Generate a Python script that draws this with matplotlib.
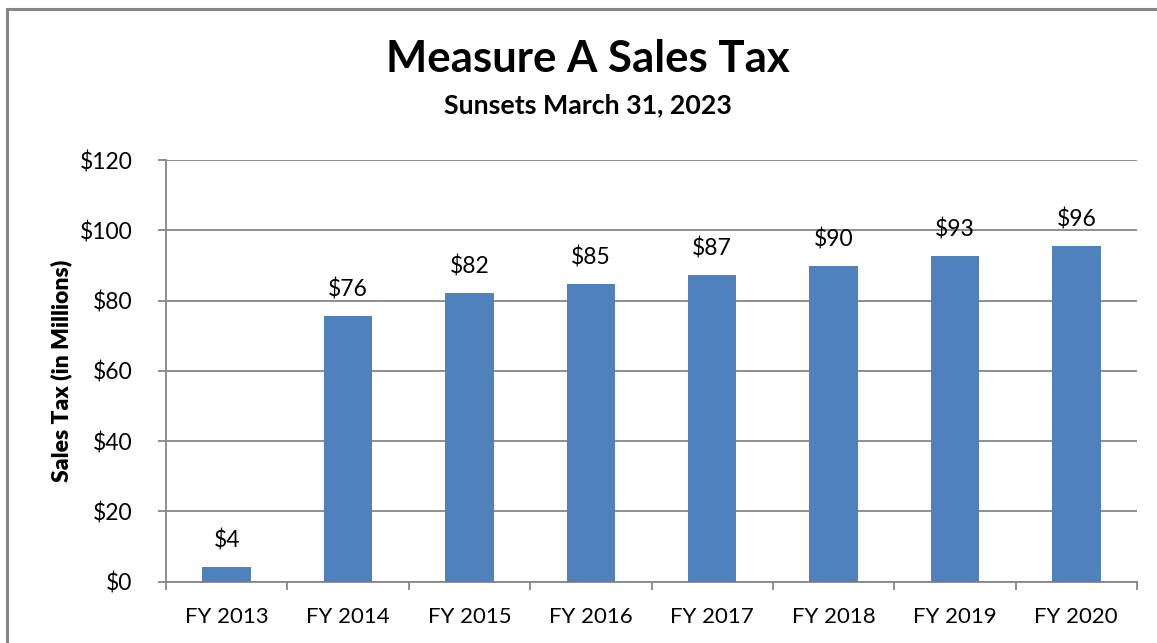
import matplotlib
matplotlib.use("Agg")
import matplotlib.pyplot as plt
from matplotlib.patches import Rectangle

years = ["FY 2013", "FY 2014", "FY 2015", "FY 2016", "FY 2017", "FY 2018", "FY 2019", "FY 2020"]
sales_tax = [4.3, 75.6, 82.2, 84.8, 87.3, 89.9, 92.7, 95.6]
labels = ["$4", "$76", "$82", "$85", "$87", "$90", "$93", "$96"]
yticks = [0, 20, 40, 60, 80, 100, 120]

plt.rcParams["font.family"] = ["Lato", "DejaVu Sans"]

W, H = 1157, 643
fig = plt.figure(figsize=(W / 100, H / 100), dpi=100)

# outer chart border (cut off at right and bottom like the reference)
fig.patches.append(Rectangle((7 / W, -0.1), 1.2, 1 - 9 / H + 0.1, transform=fig.transFigure,
                             fill=False, edgecolor="#868686", linewidth=2.2))

ax = fig.add_axes([166 / W, 1 - 581.7 / H, (1137 - 166) / W, (581.7 - 160) / H])
x = range(len(years))
ax.bar(x, sales_tax, width=0.4, color="#4f81bd", zorder=3)
for i, (v, lab) in enumerate(zip(sales_tax, labels)):
    ax.annotate(lab, (i, v), xytext=(0, 11), textcoords="offset points",
                ha="center", va="bottom", fontsize=16.5)

ax.set_xlim(-0.5, len(years) - 0.5)
ax.set_ylim(0, 120)
ax.set_yticks(yticks)
ax.set_yticklabels([f"${t}" for t in yticks], fontsize=16.5)
ax.yaxis.grid(True, color="#868686", linewidth=1.3, zorder=0)

# category labels in the middle, tick marks on the boundaries
ax.set_xticks(list(x))
ax.set_xticklabels(years, fontsize=16)
ax.tick_params(axis="x", length=0, pad=18)
ax.set_xticks([i - 0.5 for i in range(len(years) + 1)], minor=True)
ax.tick_params(axis="x", which="minor", length=6, width=1.3, color="#868686")
ax.tick_params(axis="y", length=6, width=1.3, color="#868686", pad=18)

for side in ["top", "right"]:
    ax.spines[side].set_visible(False)
for side in ["left", "bottom"]:
    ax.spines[side].set_color("#868686")
    ax.spines[side].set_linewidth(1.3)

ax.set_ylabel("Sales Tax (in Millions)", fontsize=16.5, fontweight="heavy")
ax.yaxis.set_label_coords((72 - 166) / 971, 0.5)

fig.text(588 / W, 1 - 59 / H, "Measure A Sales Tax", ha="center", va="center",
         fontsize=31.5, fontweight="bold")
fig.text(588 / W, 1 - 105 / H, "Sunsets March 31, 2023", ha="center", va="center",
         fontsize=19.3, fontweight="bold")

fig.savefig("out.png", dpi=100)
